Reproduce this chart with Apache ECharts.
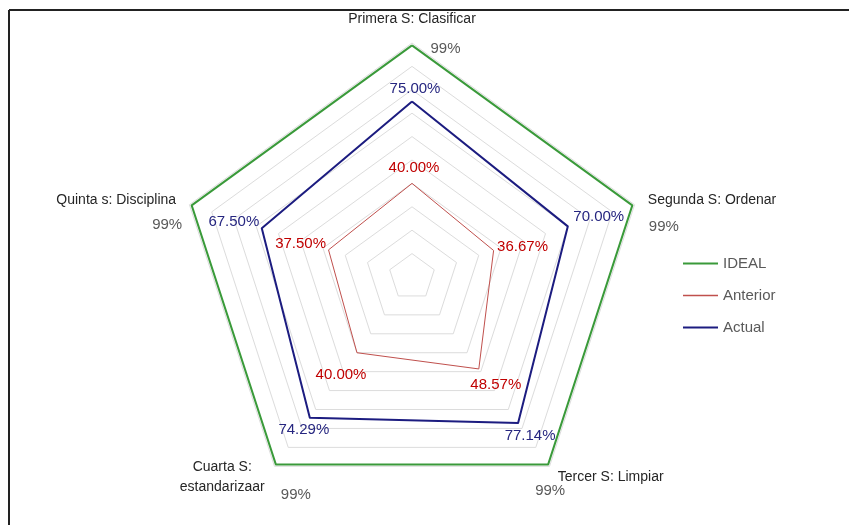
<!DOCTYPE html>
<html>
<head>
<meta charset="utf-8">
<script src="https://cdn.jsdelivr.net/npm/echarts@6/dist/echarts.min.js"></script>
<style>
  body { margin: 0; background: #fff; }
  #main { width: 849px; height: 525px; }
</style>
</head>
<body>
<div id="main"></div>
<script>
// ejes en orden horario desde arriba
var ejes = ["Primera S: Clasificar", "Segunda S: Ordenar", "Tercer S: Limpiar", "Cuarta S:\nestandarizaar", "Quinta s: Disciplina"];
var ideal = [0.99, 0.99, 0.99, 0.99, 0.99];
var anterior = [0.40, 0.3667, 0.4857, 0.40, 0.375];
var actual = [0.75, 0.70, 0.7714, 0.7429, 0.675];
var serieNombres = ["IDEAL", "Anterior", "Actual"];

// echarts coloca los indicadores en sentido antihorario
var orden = [0, 4, 3, 2, 1];
function reordenar(arr) { return orden.map(function (i) { return arr[i]; }); }

var colLinea = { IDEAL: '#3a9a3a', Anterior: '#c0504d', Actual: '#1c1c80' };
var colTexto = { IDEAL: '#595959', Anterior: '#c00000', Actual: '#262680' };
var grosor = { IDEAL: 2, Anterior: 1, Actual: 2 };

// posicion de cada etiqueta (por vertice, orden horario)
var posEtiq = {
  IDEAL: [['right', [13, 4]], ['right', [11, 21]], ['bottom', [2, 13]], ['bottom', [20, 17]], ['left', [-4, 19]]],
  Anterior: [['top', [2, -3]], ['right', [-2, -4]], ['bottom', [17, 3]], ['bottom', [-16, 9]], ['left', [3, -6]]],
  Actual: [['top', [3, 0]], ['right', [0, -10]], ['bottom', [12, 0]], ['bottom', [-6, -1]], ['left', [3, -6]]]
};

function formato(nombre, v) {
  if (!(v > 0)) return '';
  if (nombre == 'IDEAL') return Math.round(v * 100) + '%';
  return (v * 100).toFixed(2) + '%';
}

var valores = { IDEAL: ideal, Anterior: anterior, Actual: actual };

var datosLineas = serieNombres.map(function (n) {
  return {
    name: n,
    value: reordenar(valores[n]),
    symbol: 'none',
    itemStyle: { color: colLinea[n] },
    lineStyle: { color: colLinea[n], width: grosor[n] }
  };
});

var datosEtiq = [];
serieNombres.forEach(function (n) {
  for (var i = 0; i < 5; i++) {
    var v = valores[n].map(function (x, j) { return j == i ? x : 0; });
    (function (nom) {
      datosEtiq.push({
        name: nom + '_' + i,
        value: reordenar(v),
        symbol: 'circle',
        symbolSize: 1,
        itemStyle: { color: 'rgba(0,0,0,0)' },
        lineStyle: { opacity: 0 },
        label: {
          show: true,
          position: posEtiq[nom][i][0],
          offset: posEtiq[nom][i][1],
          color: colTexto[nom],
          fontSize: 15,
          fontFamily: 'Liberation Sans',
          formatter: function (p) { return formato(nom, p.value); }
        }
      });
    })(n);
  }
});

var chart = echarts.init(document.getElementById('main'));
var option = {
  animation: false,
  backgroundColor: '#fff',
  graphic: [
    { type: 'line', shape: { x1: 9, y1: 10, x2: 849, y2: 10 }, style: { stroke: '#222', lineWidth: 2 } },
    { type: 'line', shape: { x1: 9, y1: 10, x2: 9, y2: 525 }, style: { stroke: '#222', lineWidth: 2 } }
  ],
  legend: {
    orient: 'vertical',
    left: 678,
    top: 251,
    itemWidth: 35,
    itemHeight: 14,
    itemGap: 17,
    textStyle: { color: '#595959', fontSize: 15, fontFamily: 'Liberation Sans' },
    data: [
      { name: 'IDEAL', icon: 'path://M0,0H35V2H0Z' },
      { name: 'Anterior', icon: 'path://M0,0H35V1.4H0Z' },
      { name: 'Actual', icon: 'path://M0,0H35V2H0Z' }
    ]
  },
  radar: {
    center: [412, 277],
    radius: 234,
    startAngle: 90,
    shape: 'polygon',
    splitNumber: 10,
    nameGap: 14,
    axisName: {
      color: '#262626',
      fontSize: 14,
      fontFamily: 'Liberation Sans',
      lineHeight: 20,
      formatter: function (v) {
        if (v.indexOf('\n') < 0) return v;
        return v.split('\n').map(function (t) { return '{c|' + t + '}'; }).join('\n');
      },
      rich: { c: { width: 88, align: 'center', fontSize: 14, lineHeight: 20, color: '#262626', fontFamily: 'Liberation Sans' } }
    },
    axisLine: { show: false },
    axisTick: { show: false },
    axisLabel: { show: false },
    splitArea: { show: false },
    splitLine: { lineStyle: { color: '#dcdcdc', width: 1 } },
    indicator: reordenar(ejes).map(function (e) { return { name: e, min: 0, max: 1 }; })
  },
  series: [
    { type: 'radar', data: datosLineas, silent: true },
    { type: 'radar', data: datosEtiq, silent: true }
  ]
};
chart.setOption(option);
</script>
</body>
</html>
